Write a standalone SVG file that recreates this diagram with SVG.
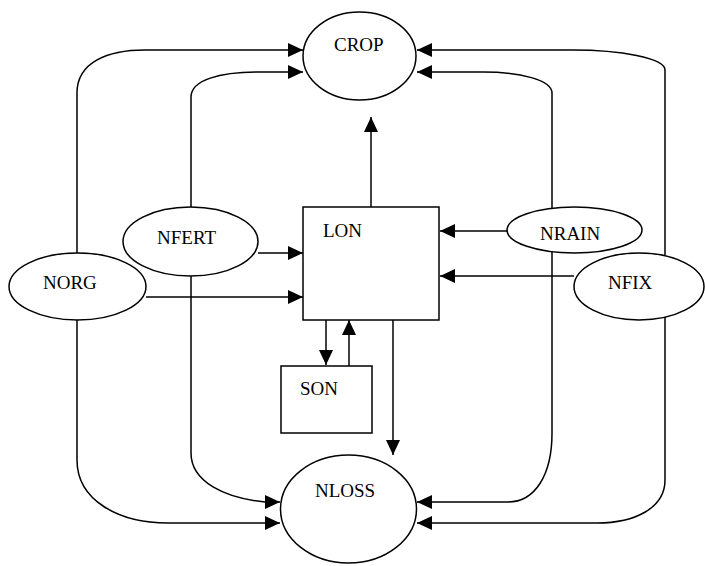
<svg xmlns="http://www.w3.org/2000/svg" width="705" height="566" viewBox="0 0 705 566">
<style>
.c{fill:none;stroke:#000;stroke-width:1.5;marker-end:url(#ah)}
.n{fill:#fff;stroke:#000;stroke-width:1.5}
.t{font-family:"Liberation Serif","Times New Roman",serif;font-size:19px;fill:#000}
</style>
<defs>
<marker id="ah" viewBox="0 0 15 14" markerWidth="15" markerHeight="14" refX="15" refY="7" orient="auto" markerUnits="userSpaceOnUse">
<path d="M0,0 L15,7 L0,14 Z" fill="#000"/>
</marker>
</defs>
<g id="connectors">
<path class="c" d="M77,260 L77,93 C77,62 108,50 145,50 L303,50"/>
<path class="c" d="M191,215 L191,97 C191,80 220,72 258,72 L303,72"/>
<path class="c" d="M665,260 L665,70 C665,58 620,50 573,50 L417,50"/>
<path class="c" d="M552,215 L552,93 C552,80 520,72 483,72 L417,72"/>
<path class="c" d="M77,315 L77,460 C77,500 118,523 168,523 L280,523"/>
<path class="c" d="M191,270 L191,453 C191,482 225,498 265,502 L280,502"/>
<path class="c" d="M665,315 L665,480 C665,508 635,523 597,523 L417,523"/>
<path class="c" d="M552,245 L552,433 C552,475 535,502 508,502 L417,502"/>
<path class="c" d="M258,253 L303,253"/>
<path class="c" d="M146,297 L303,297"/>
<path class="c" d="M507,231 L440,231"/>
<path class="c" d="M574,276 L440,276"/>
<path class="c" d="M371,207 L371,117"/>
<path class="c" d="M326,320 L326,365"/>
<path class="c" d="M349,366 L349,320"/>
<path class="c" d="M393,320 L393,455"/>
</g>
<g id="CROP"><ellipse class="n" cx="359.5" cy="56" rx="56.5" ry="44"/><text class="t" x="334" y="51">CROP</text></g>
<g id="NFERT"><ellipse class="n" cx="190.5" cy="241.5" rx="67.5" ry="34.5"/><text class="t" x="157" y="244">NFERT</text></g>
<g id="NORG"><ellipse class="n" cx="77.5" cy="286.5" rx="68.5" ry="33.5"/><text class="t" x="43" y="289">NORG</text></g>
<g id="LON"><rect class="n" x="303" y="207" width="136" height="113"/><text class="t" x="323" y="237">LON</text></g>
<g id="NRAIN"><ellipse class="n" cx="574.5" cy="230" rx="67.5" ry="23"/><text class="t" x="540" y="240">NRAIN</text></g>
<g id="NFIX"><ellipse class="n" cx="639" cy="286.5" rx="65" ry="33.5"/><text class="t" x="608" y="289">NFIX</text></g>
<g id="SON"><rect class="n" x="281" y="366" width="91" height="67"/><text class="t" x="300" y="395">SON</text></g>
<g id="NLOSS"><ellipse class="n" cx="348.5" cy="509" rx="68" ry="54"/><text class="t" x="315" y="497">NLOSS</text></g>
</svg>
